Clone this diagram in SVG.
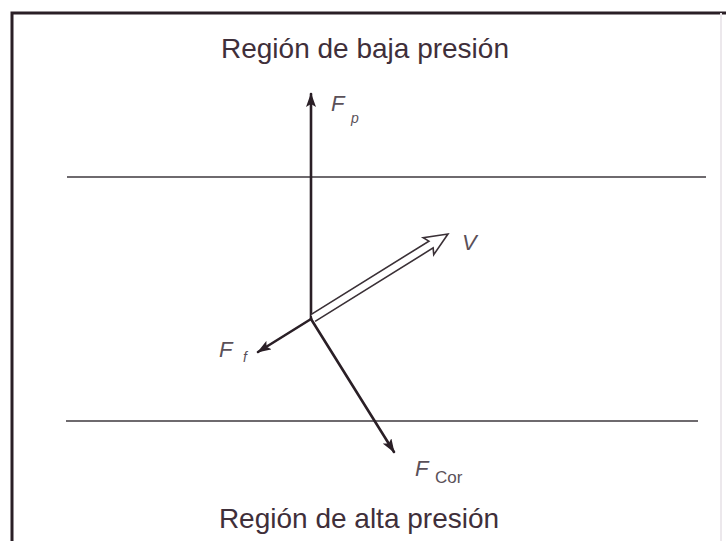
<svg xmlns="http://www.w3.org/2000/svg" width="726" height="541" viewBox="0 0 726 541">
<style>
.frame{stroke:#2a1f26;stroke-width:3;fill:none}
.hline{stroke:#6e6a6e;stroke-width:2;fill:none}
.vec{stroke:#2a1f26;stroke-width:2.6;fill:none;stroke-linecap:round}
.title{font-family:"Liberation Sans",Arial,sans-serif;font-size:28px;fill:#3f2f3a}
.sym{font-family:"Liberation Sans",Arial,sans-serif;font-style:italic;fill:#5a5058}
.sub{font-family:"Liberation Sans",Arial,sans-serif;font-style:normal;fill:#5a5058}
</style>
<defs>
<marker id="ah" viewBox="0 0 14 10" refX="13" refY="5" markerWidth="14" markerHeight="10" markerUnits="userSpaceOnUse" orient="auto">
<path d="M0,0 L14,5 L0,10 L3,5 Z" fill="#2a1f26"/>
</marker>
</defs>
<rect width="726" height="541" fill="#ffffff"/>
<g id="frame">
<path class="frame" d="M12,541 L12,13 L726,13"/>
<line x1="721" y1="13" x2="721" y2="541" stroke="#ece8ec" stroke-width="2"/>
</g>
<g id="labels">
<text id="low" class="title" x="365" y="58" text-anchor="middle">Región de baja presión</text>
<text id="high" class="title" x="359" y="528" text-anchor="middle">Región de alta presión</text>
</g>
<g id="lines">
<line class="hline" x1="67" y1="177" x2="706" y2="177"/>
<line class="hline" x1="66" y1="421" x2="698" y2="421"/>
</g>
<g id="connectors">
<path id="Fp" class="vec" d="M311,319 L311,94" marker-end="url(#ah)"/>
<path id="Ff" class="vec" d="M311,319 L258,352" marker-end="url(#ah)"/>
<path id="Fcor" class="vec" d="M311,319 L394,452" marker-end="url(#ah)"/>
<g id="V" transform="translate(313,318) rotate(-31.9)">
<path d="M0,-4 L139,-4 L136,-10 L159,0 L136,10 L139,4 L0,4" fill="#ffffff" stroke="#3a3036" stroke-width="1.6" stroke-linejoin="miter"/>
</g>
</g>
<g id="symbols">
<text class="sym" x="331" y="111" font-size="22">F</text>
<text class="sym" x="351" y="123" font-size="14">p</text>
<text class="sym" x="462" y="250" font-size="22">V</text>
<text class="sym" x="219" y="357" font-size="22">F</text>
<text class="sym" x="243" y="362" font-size="14">f</text>
<text class="sym" x="415" y="476" font-size="22">F</text>
<text class="sub" x="435" y="483" font-size="17">Cor</text>
</g>
</svg>
